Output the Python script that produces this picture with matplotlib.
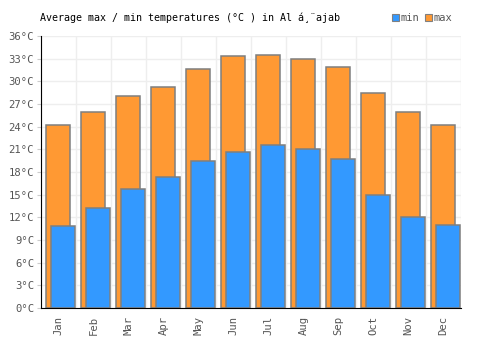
import matplotlib
matplotlib.use("Agg")
import matplotlib.pyplot as plt
import numpy as np
from matplotlib.patches import Rectangle

months = ["Jan", "Feb", "Mar", "Apr", "May", "Jun", "Jul", "Aug", "Sep", "Oct", "Nov", "Dec"]
t_max = [24.2, 25.9, 28.0, 29.3, 31.6, 33.3, 33.5, 32.9, 31.9, 28.5, 26.0, 24.2]
t_min = [10.9, 13.2, 15.8, 17.4, 19.4, 20.7, 21.6, 21.0, 19.7, 15.0, 12.1, 11.0]
y_ticks = list(range(0, 37, 3))

font = "DejaVu Sans Mono"
fig = plt.figure(figsize=(5, 3.5), dpi=100)
ax = fig.add_axes([0.082, 0.12, 0.84, 0.777])

x = np.arange(len(months))
w = 24 / 35
ax.bar(x - 0.014, t_max, width=w, color="#ff9933", edgecolor="#7f7f7f", linewidth=1.1, zorder=3, label="max")
ax.bar(x + 0.129, t_min, width=w, color="#3399ff", edgecolor="#7f7f7f", linewidth=1.1, zorder=4, label="min")

ax.set_xlim(-0.5, len(months) - 0.5)
ax.set_ylim(0, 36)
ax.set_yticks(y_ticks)
ax.set_yticklabels([f"{v}°C" for v in y_ticks], fontfamily=font, fontsize=7.6, color="#555555")
ax.set_xticks(x)
ax.set_xticklabels(months, rotation=90, fontfamily=font, fontsize=7.6, color="#555555")
ax.set_xticks(np.arange(-0.5, len(months), 1), minor=True)
ax.tick_params(axis="x", which="both", length=0, pad=6)
ax.tick_params(axis="y", length=3, color="#cccccc", pad=2)
ax.grid(True, axis="y", which="major", color="#eeeeee", linewidth=1, zorder=0)
ax.grid(True, axis="x", which="minor", color="#eeeeee", linewidth=1, zorder=0)
ax.grid(False, axis="x", which="major")
for s in ["top", "right"]:
    ax.spines[s].set_visible(False)
ax.spines["left"].set_color("black")
ax.spines["bottom"].set_color("black")
ax.spines["left"].set_zorder(5)
ax.spines["bottom"].set_zorder(5)

fig.text(0.08, 0.948, "Average max / min temperatures (°C ) in Al á¸¨ajab",
         fontfamily=font, fontsize=7.2, color="black", va="center", ha="left")

for xp, col, lab in [(0.783, "#3399ff", "min"), (0.850, "#ff9933", "max")]:
    fig.patches.append(Rectangle((xp, 0.940), 0.014, 0.02, transform=fig.transFigure,
                                 facecolor=col, edgecolor="#808080", linewidth=0.8))
    fig.text(xp + 0.018, 0.948, lab, fontfamily=font, fontsize=7.5, color="#555555",
             va="center", ha="left")

fig.savefig("out.png", dpi=100)
